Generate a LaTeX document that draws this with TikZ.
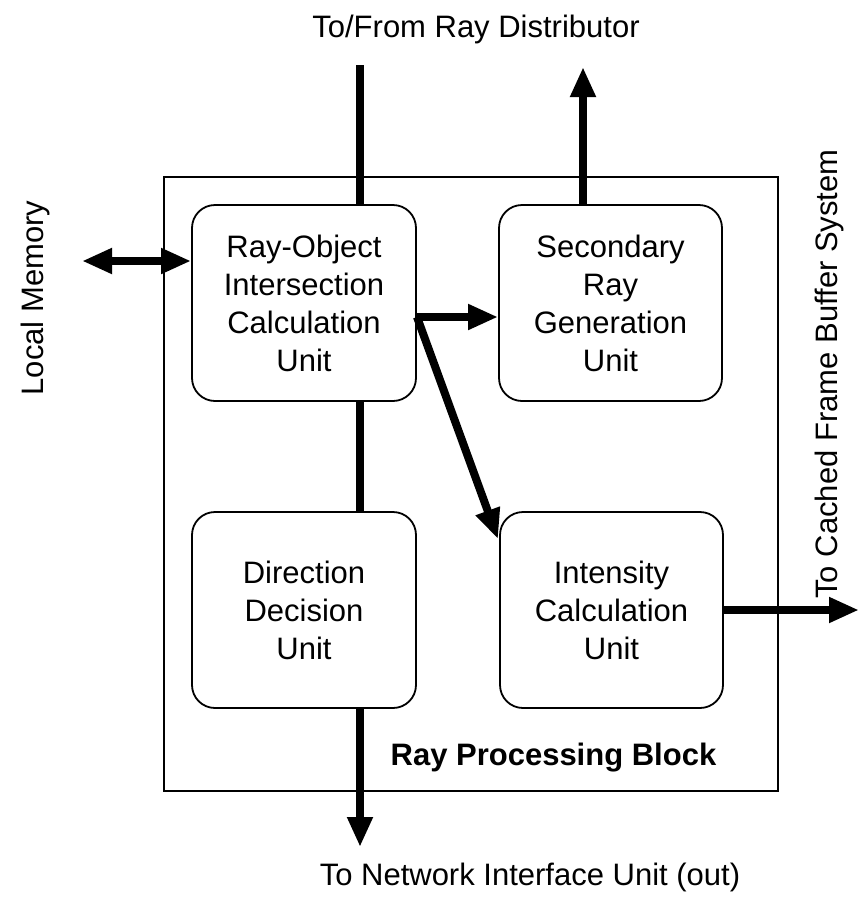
\documentclass[tikz,border=0pt]{standalone}
\usepackage{fontspec}
\setmainfont{Liberation Sans}
\usetikzlibrary{arrows.meta}
\begin{document}
\begin{tikzpicture}[x=1pt,y=-1pt,
  unitbox/.style={draw, line width=1.8pt, rounded corners=23pt,
    minimum width=224pt, minimum height=196pt, align=center,
    inner sep=0pt, font=\fontsize{31}{38}\selectfont},
  label/.style={font=\fontsize{31}{38}\selectfont, inner sep=0pt},
  bus/.style={line width=8pt},
  arr/.style={line width=8pt, -{Triangle[length=30pt,width=24pt]}},
  dbl/.style={line width=8pt, {Triangle[length=30pt,width=24pt]}-{Triangle[length=30pt,width=24pt]}}]
\useasboundingbox (0,0) rectangle (859,900);
\fill[white] (0,0) rectangle (859,900);

% enclosing block
\draw[line width=1.8pt] (164,177) rectangle (778,791);
\node[label, anchor=base, font=\fontsize{31}{38}\selectfont\bfseries] (blk) at (553.5,765) {Ray Processing Block};

% units
\node[unitbox] (b1) at (304,303) {Ray-Object\\Intersection\\Calculation\\Unit};
\node[unitbox, minimum width=223pt] (b2) at (610.5,303) {Secondary\\Ray\\Generation\\Unit};
\node[unitbox] (b3) at (304,610) {Direction\\Decision\\Unit};
\node[unitbox, minimum width=223pt] (b4) at (611.5,610) {Intensity\\Calculation\\Unit};

% outside labels
\node[label, anchor=base] (tdist) at (476,37) {To/From Ray Distributor};
\node[label, anchor=base] (tnet) at (530,885) {To Network Interface Unit (out)};
\node[label, anchor=base, rotate=90] (tmem) at (43,298) {Local Memory};
\node[label, anchor=base, rotate=90] (tfb) at (837,374) {To Cached Frame Buffer System};

% connector end points
\coordinate (topin) at (360,65);
\coordinate (upout) at (583,67);
\coordinate (downout) at (360,847);
\coordinate (memend) at (82,261);
\coordinate (fork) at (417,317);
\coordinate (diagtip) at (498,539);
\coordinate (fbout) at (859,610);

% connectors
\draw[bus] (topin) -- (topin |- b1.north);
\draw[bus] (topin |- b1.south) -- (topin |- b3.north);
\draw[arr] (topin |- b3.south) -- (downout);
\draw[arr] (upout |- b2.north) -- (upout);
\draw[dbl] (memend) -- (memend -| b1.west);
\draw[arr] (fork) -- (fork -| b2.west);
\draw[arr] (fork) -- (diagtip);
\draw[arr] (b4.east) -- (fbout);
\end{tikzpicture}
\end{document}
